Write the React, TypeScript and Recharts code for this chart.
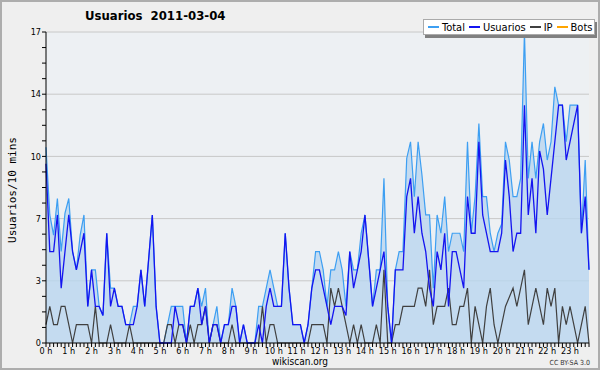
import React from "react";
import { ComposedChart, Area, Line, XAxis, YAxis, CartesianGrid } from "recharts";

// one value every 10 minutes, 0:00 .. 23:50
const total = [
  10.7, 7.0, 5.9, 7.9, 5.0, 7.1, 7.9, 5.0, 4.0, 5.9,
  7.0, 2.0, 4.0, 4.0, 2.0, 1.5, 6.0, 3.0, 3.0, 2.0,
  2.0, 1.0, 1.0, 2.0, 2.0, 4.0, 2.0, 4.5, 7.0, 2.0,
  0, 0, 1, 2, 2, 2, 2, 0, 2, 2,
  3, 2, 3, 0, 1, 2, 0, 1, 1, 3,
  2, 0, 1, 0, 0, 0, 2, 2, 3, 4,
  3, 2, 2, 6, 3, 1, 1, 1, 0, 1,
  3, 5, 5, 4, 2, 4, 4, 5, 4, 2,
  5, 4, 4, 6, 7, 4.5, 2, 4, 4, 9,
  2, 0, 4, 5, 5, 10.1, 11, 8, 11, 9.2,
  7, 7, 3, 7, 6, 8, 5, 6, 6, 6,
  5, 11, 6, 8, 12, 8, 8, 6, 5, 6,
  6.5, 11, 10, 8, 8, 9, 17, 9, 11, 9,
  11, 12, 10, 11, 14, 13, 13, 11, 13, 13,
  13, 6, 10, 4,
];

const usuarios = [
  9.8, 5, 5, 7, 3, 5, 7, 5, 4, 5,
  6, 2, 4, 2, 2, 1.5, 6, 2, 3, 2,
  2, 1, 1, 1, 2, 4, 2, 4.5, 7, 2,
  0, 0, 0, 0, 2, 1, 1, 0, 2, 2,
  3, 1, 2, 0, 1, 1, 0, 1, 1, 2,
  2, 0, 1, 0, 0, 0, 1, 0, 2, 3,
  2, 2, 2, 6, 3, 1, 1, 1, 0, 1,
  3, 4, 4, 3, 2, 1, 2, 2, 2, 1.5,
  5, 3, 4, 5, 7, 4.5, 2, 3, 4, 5,
  2, 0, 4, 4, 4, 8, 9, 6, 8, 6,
  5, 3, 2, 5, 4, 6, 2, 5, 5, 4,
  3, 8, 6, 6, 11, 7, 6, 5, 5, 5,
  6, 10, 8, 5, 6, 6, 13, 7, 9, 6,
  10.5, 9.5, 7, 9, 11, 13, 13, 10, 11, 12,
  13, 6, 8, 4,
];

const ip = [
  1, 2, 1, 1, 2, 2, 1, 0, 1, 1,
  1, 1, 0, 2, 0, 0, 0, 1, 0, 0,
  0, 0, 1, 0, 0, 0, 0, 0, 0, 0,
  0, 0, 1, 1, 0, 1, 1, 0, 1, 0,
  1, 1, 2, 0, 1, 1, 0, 0, 0, 1,
  0, 0, 0, 0, 0, 0, 0, 2, 0, 1,
  1, 0, 0, 0, 0, 0, 0, 0, 0, 0,
  1, 1, 1, 1, 0, 3, 2, 3, 2, 1,
  0, 1, 0, 1, 0, 0, 0, 1, 0, 4,
  0, 0, 1, 1, 2, 2, 2, 2, 3, 3,
  2, 4, 1, 2, 2, 2, 3, 1, 1, 2,
  2, 3, 0, 2, 1, 0, 2, 3, 1, 0,
  1, 2, 2.5, 3, 2, 3, 4, 1, 2, 3,
  2, 1, 3, 2, 3, 0, 2, 1, 2, 1,
  0, 1, 2, 0,
];

const hourLabels = [
  "0 h", "1 h", "2 h", "3 h", "4 h", "5 h", "6 h", "7 h", "8 h", "9 h", "10 h", "11 h",
  "12 h", "13 h", "14 h", "15 h", "16 h", "17 h", "18 h", "19 h", "20 h", "21 h", "22 h", "23 h",
];

const yTicks = [
  0, 0.85, 1.7, 2.55, 3.4, 4.25, 5.1, 5.95, 6.8, 7.65, 8.5,
  9.35, 10.2, 11.05, 11.9, 12.75, 13.6, 14.45, 15.3, 16.15, 17,
];
const gridValues = [3.4, 6.8, 10.2, 13.6, 17];
const yLabels: Record<string, string> = { "0": "0", "3.4": "3", "6.8": "7", "10.2": "10", "13.6": "14", "17": "17" };

const legendItems = [
  { name: "Total", color: "#3d9ff2" },
  { name: "Usuarios", color: "#1414f0" },
  { name: "IP", color: "#404040" },
  { name: "Bots", color: "#ffa500" },
];

const FONT = '"DejaVu Sans Condensed", "DejaVu Sans", sans-serif';

const xTicks = total.map((_, i) => i);

export default function App() {
  const rows = total.map((t, i) => ({ i, total: t, usuarios: usuarios[i], ip: ip[i] }));

  return (
    <div style={{ position: "relative", width: 600, height: 370, background: "#efefef", fontFamily: FONT }}>
      <style>{`body{margin:0}`}</style>
      <ComposedChart width={600} height={370} data={rows} margin={{ top: 32, right: 11, left: 6, bottom: 7 }}>
        <CartesianGrid vertical={false} horizontalValues={gridValues} stroke="#c8c8c8" fill="#edf0f3" />
        <XAxis
          type="number"
          dataKey="i"
          domain={[0, 143]}
          ticks={xTicks}
          interval={0}
          tickFormatter={(v: number) => (v % 6 === 0 ? hourLabels[v / 6] : "")}
          tick={{ fontSize: 9, fill: "#000", fontFamily: FONT }}
          tickSize={4}
          tickMargin={1}
          height={20}
          axisLine={{ stroke: "#000" }}
          tickLine={{ stroke: "#000" }}
        />
        <YAxis
          type="number"
          domain={[0, 17]}
          ticks={yTicks}
          interval={0}
          width={40}
          tickFormatter={(v: number) => yLabels[String(v)] ?? ""}
          tick={{ fontSize: 9, fill: "#000", fontFamily: FONT }}
          tickSize={4}
          tickMargin={1}
          axisLine={{ stroke: "#000" }}
          tickLine={{ stroke: "#000" }}
        />
        <Area
          dataKey="total"
          type="linear"
          stroke="#3d9ff2"
          strokeWidth={1.2}
          fill="#b9d6ef"
          fillOpacity={0.8}
          dot={false}
          activeDot={false}
          isAnimationActive={false}
        />
        <Line dataKey="ip" type="linear" stroke="#404040" strokeWidth={1.2} dot={false} activeDot={false} isAnimationActive={false} />
        <Line dataKey="usuarios" type="linear" stroke="#1414f0" strokeWidth={1.3} dot={false} activeDot={false} isAnimationActive={false} />
      </ComposedChart>

      <div style={{ position: "absolute", left: 85, top: 8, fontSize: 13, fontWeight: "bold", whiteSpace: "pre" }}>
        {"Usuarios  2011-03-04"}
      </div>

      <div
        style={{
          position: "absolute",
          left: 12,
          top: 190,
          transform: "translate(-50%, -50%) rotate(-90deg)",
          fontFamily: '"DejaVu Sans Mono", monospace',
          fontSize: 11,
          whiteSpace: "nowrap",
        }}
      >
        Usuarios/10 mins
      </div>

      <div
        style={{
          position: "absolute",
          left: 423,
          top: 19,
          width: 172,
          height: 16,
          background: "#fff",
          border: "1px solid #aaa",
          boxShadow: "2px 3px 0 #808080",
          display: "flex",
          alignItems: "center",
          gap: 4,
          paddingLeft: 4,
          boxSizing: "border-box",
          fontSize: 11,
        }}
      >
        {legendItems.map((it) => (
          <span key={it.name} style={{ display: "flex", alignItems: "center", gap: 3 }}>
            <span style={{ display: "inline-block", width: 11, height: 1.5, background: it.color }} />
            {it.name}
          </span>
        ))}
      </div>

      <div style={{ position: "absolute", left: 0, width: 600, top: 356, textAlign: "center", fontSize: 10 }}>
        wikiscan.org
      </div>
      <div style={{ position: "absolute", right: 10, top: 359, fontSize: 7, color: "#333" }}>CC BY-SA 3.0</div>

      <div
        style={{
          position: "absolute",
          inset: 0,
          border: "2px solid #adadad",
          boxSizing: "border-box",
          pointerEvents: "none",
        }}
      />
    </div>
  );
}
